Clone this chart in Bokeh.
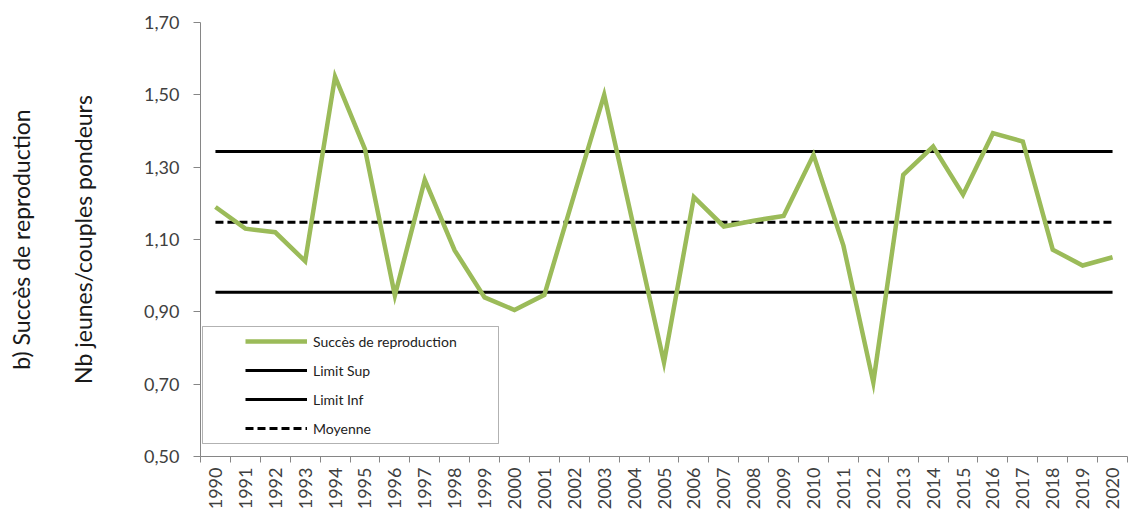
from math import pi
from bokeh.plotting import figure
from bokeh.models import (FixedTicker, CustomJSTickFormatter, Legend, LegendItem,
                          LinearAxis, BoxAnnotation, Range1d)
from bokeh.embed import file_html
from bokeh.resources import INLINE

# ---- data ----
years = list(range(1990, 2021))
succes = [1.19, 1.13, 1.12, 1.04, 1.55, 1.35, 0.945, 1.265, 1.07, 0.94,
          0.905, 0.947, 1.225, 1.50, 1.13, 0.76, 1.217, 1.136, 1.152, 1.165,
          1.334, 1.083, 0.705, 1.279, 1.357, 1.224, 1.394, 1.371, 1.072, 1.028,
          1.051]
limit_sup = 1.343
limit_inf = 0.954
moyenne = 1.148
y_ticks = [0.5, 0.7, 0.9, 1.1, 1.3, 1.5, 1.7]

FONT = "Lato"
GREEN = "#9BBB59"
AXIS = "#868686"
TXT = "#404040"

p = figure(width=1128, height=517,
           x_range=Range1d(years[0] - 0.5, years[-1] + 0.5),
           y_range=Range1d(y_ticks[0], y_ticks[-1]),
           output_backend="svg", toolbar_location=None,
           min_border_left=200, min_border_top=22,
           min_border_bottom=61, min_border_right=1)
p.xgrid.visible = False
p.ygrid.visible = False
p.outline_line_color = None
p.background_fill_color = "white"

# horizontal reference lines
r_sup = p.line(years, [limit_sup] * len(years), line_color="black", line_width=3)
r_inf = p.line(years, [limit_inf] * len(years), line_color="black", line_width=3)
r_moy = p.line(years, [moyenne] * len(years), line_color="black", line_width=3,
               line_dash="8 4")
r_suc = p.line(years, succes, line_color=GREEN, line_width=4.5,
               line_join="miter")

# x axis
xa = p.xaxis[0]
xa.ticker = FixedTicker(ticks=years,
                        minor_ticks=[y - 0.5 for y in years] + [years[-1] + 0.5])
xa.major_label_overrides = {y: str(y) for y in years}
xa.major_label_orientation = pi / 2
xa.major_tick_out = 0
xa.major_tick_in = 0
xa.minor_tick_out = 6
xa.minor_tick_in = 0
xa.minor_tick_line_color = AXIS
xa.axis_line_color = AXIS
xa.major_label_standoff = 5
xa.major_label_text_font = FONT
xa.major_label_text_font_size = "18px"
xa.major_label_text_color = TXT

# y axis
ya = p.yaxis[0]
ya.ticker = FixedTicker(ticks=y_ticks)
ya.formatter = CustomJSTickFormatter(code="return tick.toFixed(2).replace('.', ',');")
ya.major_tick_out = 7
ya.major_tick_in = 0
ya.minor_tick_out = 0
ya.minor_tick_in = 0
ya.major_tick_line_color = AXIS
ya.axis_line_color = AXIS
ya.major_label_standoff = 14
ya.major_label_text_font = FONT
ya.major_label_text_font_size = "18px"
ya.major_label_text_color = TXT
ya.axis_label = "Nb jeunes/couples pondeurs"
ya.axis_label_standoff = 44
ya.axis_label_text_font = FONT
ya.axis_label_text_font_size = "23px"
ya.axis_label_text_font_style = "normal"
ya.axis_label_text_color = "#1a1a1a"

# outer title as a bare axis label
outer = LinearAxis(ticker=FixedTicker(ticks=[]), axis_line_color=None,
                   major_tick_line_color=None, minor_tick_line_color=None,
                   major_label_text_font_size="0px",
                   axis_label="b) Succès de reproduction", axis_label_standoff=32,
                   axis_label_text_font=FONT, axis_label_text_font_size="23px",
                   axis_label_text_font_style="normal",
                   axis_label_text_color="#1a1a1a")
p.add_layout(outer, "left")

# legend frame
p.add_layout(BoxAnnotation(left=2, right=298, bottom=13, top=130,
                           left_units="screen", right_units="screen",
                           bottom_units="screen", top_units="screen",
                           fill_color="white", fill_alpha=1.0,
                           line_color="black", line_width=1))

legend = Legend(items=[LegendItem(label="Succès de reproduction", renderers=[r_suc]),
                       LegendItem(label="Limit Sup", renderers=[r_sup]),
                       LegendItem(label="Limit Inf", renderers=[r_inf]),
                       LegendItem(label="Moyenne", renderers=[r_moy])],
                location=(40, 13), padding=5, spacing=9, glyph_width=62,
                glyph_height=20, label_height=20, label_standoff=6,
                border_line_alpha=0, background_fill_alpha=0,
                label_text_font=FONT, label_text_font_size="14px",
                label_text_color="#222222")
p.add_layout(legend)

open("out.html", "w").write(file_html(p, INLINE))
